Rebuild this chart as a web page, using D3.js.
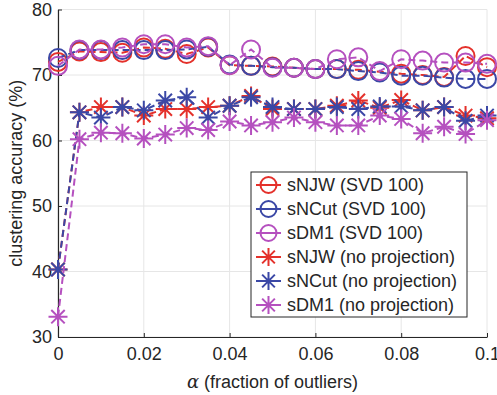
<!DOCTYPE html>
<html>
<head>
<meta charset="utf-8">
<script src="https://cdn.jsdelivr.net/npm/d3@7"></script>
<style>
  body { margin: 0; background: #fff; }
  svg { font-family: Arial, "Liberation Sans", Helvetica, sans-serif; }
</style>
</head>
<body>
<svg width="497" height="395"></svg>
<script>
// fraction of outliers (x)
const alpha = [0, 0.005, 0.01, 0.015, 0.02, 0.025, 0.03, 0.035, 0.04, 0.045, 0.05,
               0.055, 0.06, 0.065, 0.07, 0.075, 0.08, 0.085, 0.09, 0.095, 0.1];

// clustering accuracy (%)
const njwSvd  = [72.0, 73.6, 73.5, 73.4, 74.2, 74.0, 73.2, 74.2, 71.5, 71.4, 71.3, 71.1, 70.9, 70.9, 70.8, 70.5, 70.2, 70.0, 69.7, 72.9, 71.2];
const ncutSvd = [72.6, 73.8, 73.8, 73.8, 73.8, 73.8, 73.9, 74.3, 71.6, 71.4, 71.2, 71.1, 70.9, 70.9, 70.6, 70.4, 69.9, 69.9, 69.6, 69.4, 69.4];
const dm1Svd  = [71.4, 73.9, 73.9, 74.2, 74.7, 74.7, 74.2, 74.4, 71.5, 73.9, 71.1, 71.1, 70.9, 72.4, 72.7, 70.6, 72.4, 72.2, 71.9, 71.9, 71.7];
const njwRaw  = [40.3, 64.3, 65.1, 65.1, 63.8, 64.8, 64.8, 65.1, 65.3, 66.8, 64.8, 64.8, 64.8, 65.3, 66.1, 65.0, 66.2, 64.6, 65.1, 63.8, 63.4];
const ncutRaw = [40.3, 64.3, 63.5, 65.1, 64.6, 66.1, 66.6, 63.5, 65.3, 66.6, 65.1, 64.8, 64.8, 65.1, 64.8, 65.2, 65.2, 64.6, 65.1, 63.0, 63.8];
const dm1Raw  = [33.1, 60.2, 61.2, 61.1, 60.3, 60.9, 61.9, 61.6, 62.9, 62.3, 62.8, 63.5, 62.8, 62.3, 62.3, 63.8, 63.3, 61.1, 62.1, 61.0, 63.1];

const xTicks = [0, 0.02, 0.04, 0.06, 0.08, 0.1];
const yTicks = [30, 40, 50, 60, 70, 80];

const red = '#e4312b', blue = '#3b48a6', pink = '#b550bf';

const series = [
  { name: 'sNJW (SVD 100)', vals: njwSvd, color: red, mark: 'circle' },
  { name: 'sNCut (SVD 100)', vals: ncutSvd, color: blue, mark: 'circle' },
  { name: 'sDM1 (SVD 100)', vals: dm1Svd, color: pink, mark: 'circle' },
  { name: 'sNJW (no projection)', vals: njwRaw, color: red, mark: 'star' },
  { name: 'sNCut (no projection)', vals: ncutRaw, color: blue, mark: 'star' },
  { name: 'sDM1 (no projection)', vals: dm1Raw, color: pink, mark: 'star' }
];

const svg = d3.select('svg');
const x = d3.scaleLinear().domain([0, 0.1]).range([58, 487]);
const y = d3.scaleLinear().domain([30, 80]).range([337, 9.5]);

// grid
svg.append('g').selectAll('line').data(xTicks).join('line')
  .attr('x1', d => x(d)).attr('x2', d => x(d))
  .attr('y1', y(30)).attr('y2', y(80))
  .attr('stroke', '#e6e6e6').attr('stroke-width', 1);
svg.append('g').selectAll('line').data(yTicks).join('line')
  .attr('x1', x(0)).attr('x2', x(0.1))
  .attr('y1', d => y(d)).attr('y2', d => y(d))
  .attr('stroke', '#e6e6e6').attr('stroke-width', 1);

// axes
const xAxis = svg.append('g').attr('transform', `translate(0,${y(30)})`)
  .call(d3.axisBottom(x).tickValues(xTicks).tickSizeInner(-4).tickSizeOuter(0)
    .tickPadding(10).tickFormat(d => d === 0 ? '0' : d3.format('~g')(d)));
const yAxis = svg.append('g').attr('transform', `translate(${x(0)},0)`)
  .call(d3.axisLeft(y).tickValues(yTicks).tickSizeInner(-4).tickSizeOuter(0).tickPadding(6));
[xAxis, yAxis].forEach(a => {
  a.select('.domain').attr('stroke', '#262626').attr('stroke-width', 1.2);
  a.selectAll('.tick line').attr('stroke', '#262626');
  a.selectAll('text').attr('font-size', 18).attr('fill', '#262626')
    .attr('font-family', 'Arial, "Liberation Sans", sans-serif');
});

// star marker path
function starPath(r) {
  let p = '';
  for (let k = 0; k < 4; k++) {
    const a = k * Math.PI / 4;
    const dx = r * Math.cos(a), dy = r * Math.sin(a);
    p += `M${-dx},${-dy}L${dx},${dy}`;
  }
  return p;
}

const line = d3.line().x((d, i) => x(alpha[i])).y(d => y(d));

series.forEach(s => {
  const g = svg.append('g');
  g.append('path').attr('d', line(s.vals))
    .attr('fill', 'none').attr('stroke', s.color).attr('stroke-width', 2)
    .attr('stroke-dasharray', '7,4');
  if (s.mark === 'circle') {
    g.selectAll('circle').data(s.vals).join('circle')
      .attr('cx', (d, i) => x(alpha[i])).attr('cy', d => y(d)).attr('r', 9)
      .attr('fill', 'none').attr('stroke', s.color).attr('stroke-width', 2);
  } else {
    g.selectAll('path.star').data(s.vals).join('path').attr('class', 'star')
      .attr('transform', (d, i) => `translate(${x(alpha[i])},${y(d)})`)
      .attr('d', starPath(9.5))
      .attr('fill', 'none').attr('stroke', s.color).attr('stroke-width', 2);
  }
});

// legend
const lg = svg.append('g');
lg.append('rect').attr('x', 251).attr('y', 172).attr('width', 216).attr('height', 145)
  .attr('fill', '#fff').attr('stroke', '#262626').attr('stroke-width', 1);
series.forEach((s, i) => {
  const cy = 185 + i * 24;
  lg.append('line').attr('x1', 256).attr('x2', 281).attr('y1', cy).attr('y2', cy)
    .attr('stroke', s.color).attr('stroke-width', 2);
  if (s.mark === 'circle') {
    lg.append('circle').attr('cx', 268.5).attr('cy', cy).attr('r', 8)
      .attr('fill', 'none').attr('stroke', s.color).attr('stroke-width', 2);
  } else {
    lg.append('path').attr('transform', `translate(268.5,${cy})`).attr('d', starPath(9))
      .attr('fill', 'none').attr('stroke', s.color).attr('stroke-width', 2);
  }
  lg.append('text').attr('x', 287).attr('y', cy).attr('dy', '0.35em')
    .attr('font-size', 18).attr('fill', '#262626').text(s.name);
});

// axis labels
svg.append('text').attr('x', (x(0) + x(0.1)) / 2).attr('y', 388)
  .attr('text-anchor', 'middle').attr('font-size', 18).attr('fill', '#262626')
  .call(t => {
    t.append('tspan').attr('font-family', '"DejaVu Serif", "Liberation Serif", serif')
      .attr('font-style', 'italic').text('α');
    t.append('tspan').text(' (fraction of outliers)');
  });
svg.append('text').attr('transform', `translate(22,${(y(30) + y(80)) / 2}) rotate(-90)`)
  .attr('text-anchor', 'middle').attr('font-size', 18).attr('fill', '#262626')
  .text('clustering accuracy (%)');
</script>
</body>
</html>
